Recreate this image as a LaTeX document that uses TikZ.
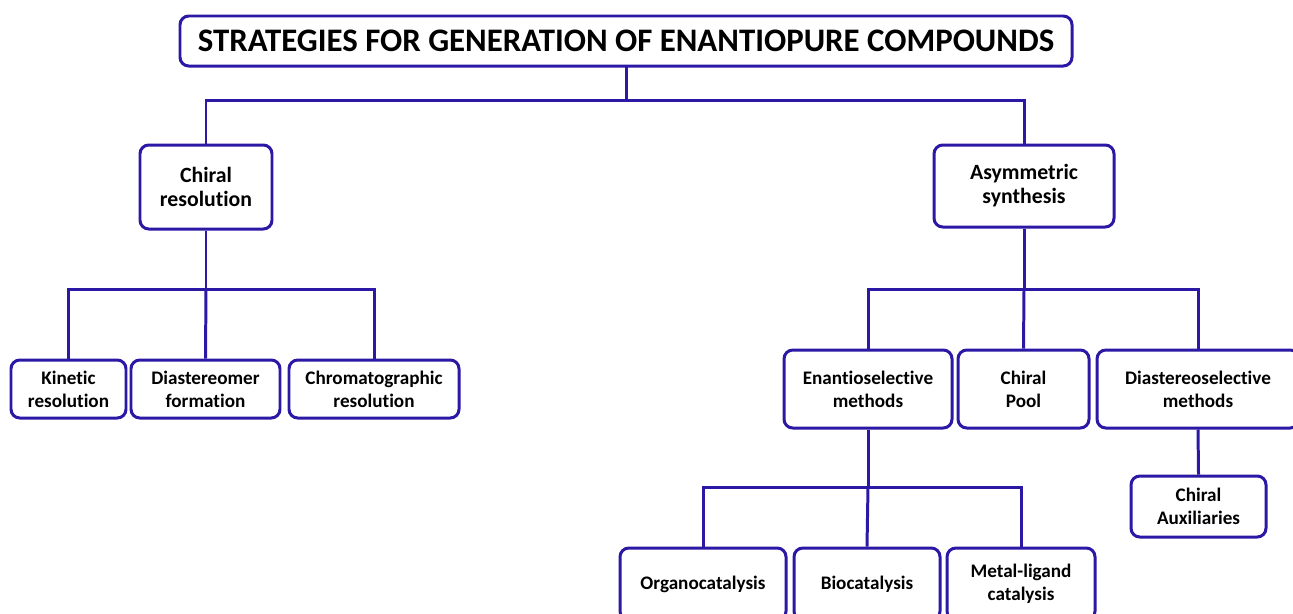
\documentclass[tikz,border=0pt]{standalone}
\usepackage{fontspec}
\setmainfont[Ligatures=NoCommon]{Carlito}
\usepackage{xcolor}
\definecolor{boxblue}{HTML}{2B19A6}

\begin{document}
\begin{tikzpicture}[x=0.02cm, y=-0.02cm]
  % --- one unit is one pixel of the 1293 x 613 reference, y runs downward ---
  \def\pxl{0.02cm}
  \useasboundingbox (0,0) rectangle (1293,613);
  \clip (0,0) rectangle (1293,613);

  \tikzset{
    box/.style={draw=boxblue, line width=1.7pt, rounded corners=5pt,
      fill=white, align=center, inner sep=0pt, font=\bfseries},
    big/.style={box, font=\fontsize{12.4}{13.7}\selectfont\bfseries},
    small/.style={box, font=\fontsize{10.9}{13}\selectfont\bfseries},
    link/.style={draw=boxblue, line width=1.7pt}}

  % ---- 1. the heading ------------------------------------------------------
  \node[box, font=\fontsize{18.7}{22}\selectfont\bfseries,
    minimum width=892*\pxl, minimum height=50*\pxl] (title) at (626,41)
    {STRATEGIES FOR GENERATION OF ENANTIOPURE COMPOUNDS};

  % ---- 2. the two main routes ----------------------------------------------
  \node[big, minimum width=132*\pxl, minimum height=84*\pxl] (chires) at (206,187)
    {Chiral\\resolution};
  \node[big, minimum width=180*\pxl, minimum height=82*\pxl] (asym) at (1024,186)
    {Asymmetric\\synthesis};

  % ---- 3. under chiral resolution ------------------------------------------
  \node[small, minimum width=115*\pxl, minimum height=58*\pxl] (kinetic) at (68.5,389)
    {Kinetic\\resolution};
  \node[small, minimum width=149*\pxl, minimum height=58*\pxl] (diamer) at (205.5,389)
    {Diastereomer\\formation};
  \node[small, minimum width=170*\pxl, minimum height=58*\pxl] (chroma) at (374,389)
    {Chromatographic\\resolution};

  % ---- 4. under asymmetric synthesis ---------------------------------------
  \node[small, minimum width=168*\pxl, minimum height=78*\pxl] (enantio) at (868,389)
    {Enantioselective\\methods};
  \node[small, minimum width=131*\pxl, minimum height=78*\pxl] (pool) at (1023.5,389)
    {Chiral\\Pool};
  \node[small, minimum width=202*\pxl, minimum height=78*\pxl] (diasel) at (1198,389)
    {Diastereoselective\\methods};
  \node[small, minimum width=135*\pxl, minimum height=61*\pxl] (aux) at (1198.5,506.5)
    {Chiral\\Auxiliaries};

  % ---- 5. the catalysis row, running off the bottom edge -------------------
  \node[small, minimum width=166*\pxl, minimum height=72*\pxl] (organo) at (703,584)
    {Organocatalysis};
  \node[small, minimum width=146*\pxl, minimum height=72*\pxl] (bio) at (867,584)
    {Biocatalysis};
  \node[small, minimum width=148*\pxl, minimum height=72*\pxl] (metal) at (1021,584)
    {Metal-ligand\\catalysis};

  % ---- 6. the tree connectors ----------------------------------------------
  \coordinate (bus0) at (title.south |- 0,100);
  \draw[link] (title.south) -- (bus0);
  \draw[link] (chires.north) |- (bus0) -| (asym.north);

  \coordinate (bus1) at (chires.south |- 0,289);
  \draw[link] (chires.south) -- (bus1);
  \draw[link] (kinetic.north) |- (bus1) -| (chroma.north);
  \draw[link] (bus1) -- (diamer.north);

  \coordinate (bus2) at (asym.south |- 0,289);
  \draw[link] (asym.south) -- (bus2);
  \draw[link] (enantio.north) |- (bus2) -| (diasel.north);
  \draw[link] (bus2) -- (pool.north);

  \draw[link] (diasel.south) -- (aux.north);

  \coordinate (bus3) at (enantio.south |- 0,487);
  \draw[link] (enantio.south) -- (bus3);
  \draw[link] (organo.north) |- (bus3) -| (metal.north);
  \draw[link] (bus3) -- (bio.north);
\end{tikzpicture}
\end{document}
